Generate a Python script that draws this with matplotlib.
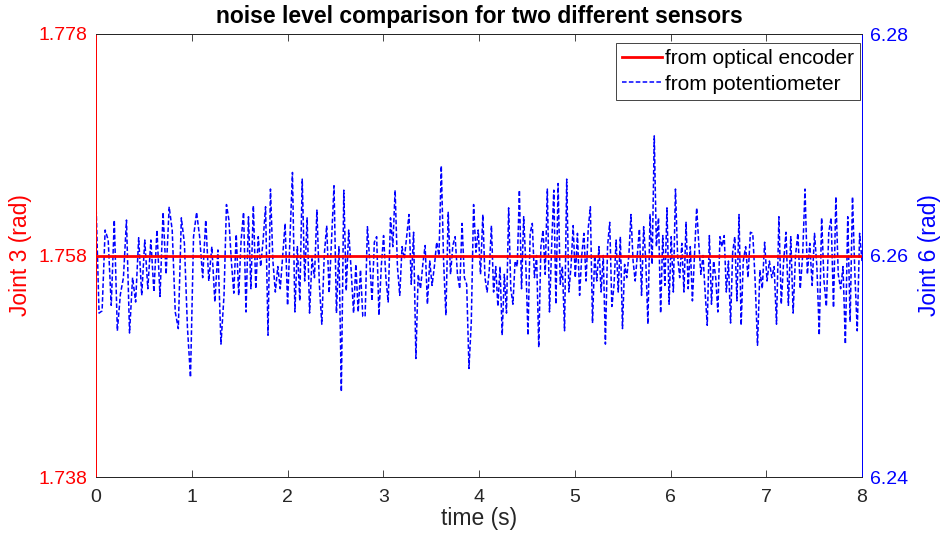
#!/usr/bin/env python3
# noise level comparison: optical encoder (joint 3) vs potentiometer (joint 6)
import numpy as np
import matplotlib
matplotlib.use('Agg')
from matplotlib import pyplot as plt

plt.rcParams['font.family'] = ['Liberation Sans', 'DejaVu Sans']

# encoder reading is flat over the whole record
t_enc = [0.0, 8.0]
enc = [1.758, 1.758]

# potentiometer deviation from 6.26 rad, in mrad
# one list per stretch of time, stretches bounded by seg_edges (s)
seg_edges = [0.0, 1.337, 2.69, 4.04, 5.41, 6.76, 8.0]
pot_seg1 = [4.8, -5.2, -5.0, 2.3, 1.4, -4.5, 3.2, -6.8, -3.5, -2.0, 3.2, -7.0, -2.0, -4.2,
            1.6, -3.6, 1.4, -3.0, 1.4, -3.3, 2.3, -3.7, 3.9, -1.7, 4.4, 2.3, -5.1, -6.6,
            3.4, 1.1, -6.5, -11.0, 1.7, 3.9, 1.7, -2.0, 3.2, -2.3, 0.8, -4.2, 0.5, -8.0]
pot_seg2 = [-3.6, 4.6, 3.2, -0.5, -3.4, 1.9, -3.6, 1.4, 3.9, -5.1, 3.5, -3.0, 4.5, -3.0,
            1.7, -1.0, 1.4, 4.4, -7.2, 6.0, -0.5, -3.3, -1.0, -3.0, 0.0, 2.9, -4.5, 1.7,
            7.5, -5.1, 0.8, -4.1, 6.9, -2.3, 3.4, -5.2, -0.3, -2.0, 4.1, -2.6, -6.2, 0.0,
            2.7, -3.4, 1.4, 6.3, -5.2, 0.8, -12.3, 5.9, -3.2, 2.3, -1.3]
pot_seg3 = [-5.2, -0.8, -5.1, -1.3, -5.5, -5.5, 2.6, -0.5, -4.1, 1.2, 1.7, -5.4, -1.0, 1.8,
            -2.0, -4.2, 3.4, 0.8, 5.9, -1.0, -3.6, 0.8, -0.3, 1.7, 3.7, -2.6, 2.1, -9.3,
            -1.7, -3.0, -0.8, 0.9, -4.4, -0.5, -2.7, -1.0, 1.2, 0.0, 8.1, -0.5, -5.4, 3.9,
            -1.7, 0.9, 1.7, -1.7, -3.0, 2.9, -2.0, -2.6, -10.2, -6.0, 4.6, 0.3, 2.3, -1.7]
pot_seg4 = [3.7, -2.0, -3.3, -1.3, 2.7, -3.3, -1.0, -4.6, -1.0, -7.2, -1.7, -5.2, 4.3, -3.0,
            -4.4, -0.5, -1.0, 5.9, -3.0, 3.5, -0.8, -7.2, 2.0, 2.9, -2.0, 0.0, -8.3, 0.8,
            2.3, -1.7, 6.0, -5.1, 0.8, 5.9, -4.4, 6.5, -2.6, -1.0, -6.8, 6.9, -3.3, -1.0,
            2.7, -2.0, 2.0, -3.6, 0.0, 2.0, -2.3, 2.4, 4.4, -6.1, 0.0, -2.3, 0.8, -3.3,
            0.0, -8.0, 0.8, 3.0, -4.6]
pot_seg5 = [-2.7, 1.4, -3.3, 1.7, -6.6, -0.8, -2.0, 0.0, 3.7, -0.5, -2.3, 0.0, 2.4, -3.6,
            2.6, -0.5, -6.2, 3.7, -0.8, 10.8, 0.8, 3.4, -5.2, 1.8, -2.7, 4.3, -4.4, 1.7,
            -3.3, 6.0, 0.0, -2.0, 1.1, -3.3, 3.0, -3.0, 0.8, -4.1, 0.0, 4.3, 1.1, -1.7,
            0.0, -3.3, -6.3, 1.8, -4.4, -0.5, -2.0, -5.1, 1.7, 0.8, 1.8, -3.3, -0.5, -6.1,
            0.3, 1.7, -4.1, 3.7, -6.3]
pot_seg6 = [-0.5, 0.8, -2.0, 2.1, 2.0, -2.3, -8.1, -1.3, -3.0, 1.2, -2.3, -0.5, -2.0, -1.0,
            -6.2, 3.5, -4.4, -0.5, 2.1, -4.5, 1.7, -5.2, 0.0, 2.0, -3.0, 0.0, 6.0, -1.7,
            1.1, -2.7, 2.0, -1.0, -7.2, 3.4, -2.3, -4.6, 2.1, 3.4, -4.7, 5.3, -1.7, -3.0,
            -1.0, -8.0, 3.5, -6.0, 5.3, -1.7, -6.8, 2.0, -0.5]
pot_offset = 6.26

segs = [pot_seg1, pot_seg2, pot_seg3, pot_seg4, pot_seg5, pot_seg6]
t_pot = []
for i, s in enumerate(segs):
    last = (i == len(segs) - 1)
    t_pot.append(np.linspace(seg_edges[i], seg_edges[i + 1], len(s), endpoint=last))
t_pot = np.concatenate(t_pot)
pot = pot_offset + np.concatenate(segs) * 1e-3

ax_col = '#262626'
fig = plt.figure(figsize=(9.46, 5.36), dpi=100)
ax = fig.add_axes([96/946, 59/536, 766/946, 443/536])
ax2 = ax.twinx()

l2, = ax2.plot(t_pot, pot, '--', color='#0000ff', lw=1.1, dashes=(3, 1.5),
               label='from potentiometer')
l1, = ax.plot(t_enc, enc, '-', color='#ff0000', lw=2.0, label='from optical encoder')

# keep encoder line above the noisy one
ax.set_zorder(ax2.get_zorder() + 1)
ax.patch.set_visible(False)

ax.set_xlim(0, 8)
ax.set_ylim(1.738, 1.778)
ax.set_yticks([1.738, 1.758, 1.778])
ax.set_yticklabels(['1.738', '1.758', '1.778'])
ax2.set_ylim(6.24, 6.28)
ax2.set_yticks([6.24, 6.26, 6.28])
ax2.set_yticklabels(['6.24', '6.26', '6.28'])
ax.set_xticks(range(0, 9))

ax.tick_params(axis='x', direction='in', length=5, width=0.6, colors=ax_col,
               labelsize=14, top=True, pad=9)
ax.tick_params(axis='y', direction='in', length=5, width=0.6, colors='#ff0000',
               labelsize=14, pad=6)
ax2.tick_params(axis='y', direction='in', length=5, width=0.6, colors='#0000ff',
                labelsize=14, pad=6)
ax2.tick_params(axis='x', top=False, bottom=False)

for a in (ax, ax2):
    a.spines['top'].set_color(ax_col)
    a.spines['bottom'].set_color(ax_col)
    a.spines['left'].set_color('#ff0000')
    a.spines['right'].set_color('#0000ff')
    for sp in a.spines.values():
        sp.set_linewidth(0.7)

ax.set_xlabel('time (s)', fontsize=16.5, color=ax_col, labelpad=0)
ax.set_ylabel('Joint 3 (rad)', fontsize=16.5, color='#ff0000', labelpad=5)
ax2.set_ylabel('Joint 6 (rad)', fontsize=16.5, color='#0000ff', labelpad=7)
ax.set_title('noise level comparison for two different sensors', fontsize=16.5,
             fontweight='bold', pad=8)

leg = ax.legend(handles=[l1, l2], loc='upper right', fontsize=15, fancybox=False,
                framealpha=1, edgecolor='#262626', handlelength=1.9, handletextpad=0.15,
                borderaxespad=0, borderpad=0.3, labelspacing=0.3,
                bbox_to_anchor=(860/946, (536 - 43)/536), bbox_transform=fig.transFigure)
leg.get_frame().set_linewidth(0.6)

plt.savefig('out.png', dpi=100)
